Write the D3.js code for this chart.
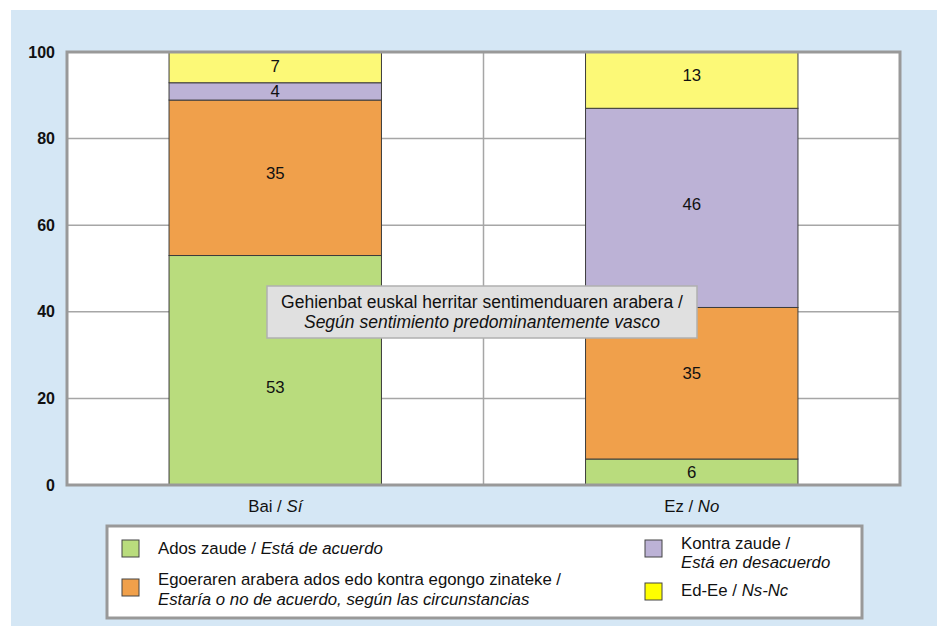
<!DOCTYPE html>
<html><head><meta charset="utf-8">
<script src="https://cdn.jsdelivr.net/npm/d3@7"></script>
<style>body{margin:0;background:#fff;}svg{display:block;font-family:"Liberation Sans",Arial,sans-serif;}</style>
</head><body>
<script>
const categories = ["Bai / |Sí", "Ez / |No"];
const seriesNames = ["Ados zaude / |Está de acuerdo", "Egoeraren arabera ados edo kontra egongo zinateke / |Estaría o no de acuerdo, según las circunstancias", "Kontra zaude / |Está en desacuerdo", "Ed-Ee / |Ns-Nc"];
const adosValues = [53, 6];
const egoerarenValues = [35.9, 35];
const kontraValues = [4, 46];
const edeeValues = [7.1, 13];
const yTicks = [0, 20, 40, 60, 80, 100];
const barColors = ["#b9dc7d", "#f0a04b", "#bcb2d6", "#fcf977"];
const legendColors = ["#b9dc7d", "#f0a04b", "#bcb2d6", "#ffff00"];
const boxText = ["Gehienbat euskal herritar sentimenduaren arabera /", "Según sentimiento predominantemente vasco"];

const W = 937, H = 626;
const FS = 16.8;
const svg = d3.select("body").append("svg").attr("width", W).attr("height", H);
svg.append("rect").attr("x", 11).attr("y", 10).attr("width", W - 11).attr("height", H - 10).attr("fill", "#d5e7f5");

const m = {left: 67, top: 52, right: 900, bottom: 485};
const x = d3.scaleBand().domain(categories).range([m.left, m.right]).paddingInner(0.49).paddingOuter(0.245);
const y = d3.scaleLinear().domain([0, 100]).range([m.bottom, m.top]);

svg.append("rect").attr("x", m.left).attr("y", m.top).attr("width", m.right - m.left).attr("height", m.bottom - m.top).attr("fill", "#fff");

// gridlines
svg.append("g").selectAll("line").data(yTicks.filter(d => d > 0 && d < 100)).join("line")
  .attr("x1", m.left).attr("x2", m.right).attr("y1", d => y(d)).attr("y2", d => y(d))
  .attr("stroke", "#a6a6a6").attr("stroke-width", 1.5);
svg.append("line").attr("x1", (m.left + m.right) / 2).attr("x2", (m.left + m.right) / 2)
  .attr("y1", m.top).attr("y2", m.bottom).attr("stroke", "#a6a6a6").attr("stroke-width", 1.5);

// data table
const rows = categories.map((c, i) => ({cat: c, s0: adosValues[i], s1: egoerarenValues[i], s2: kontraValues[i], s3: edeeValues[i]}));
const keys = ["s0", "s1", "s2", "s3"];
const stack = d3.stack().keys(keys);
const layers = stack(rows);

const gBars = svg.append("g");
layers.forEach((layer, li) => {
  gBars.selectAll(null).data(layer).join("rect")
    .attr("x", d => x(d.data.cat)).attr("width", x.bandwidth())
    .attr("y", d => y(d[1])).attr("height", d => y(d[0]) - y(d[1]))
    .attr("fill", barColors[li]).attr("stroke", "#3c3c3c").attr("stroke-width", 1);
});
// label placement nudges (pixels), like the original chart's manual label positions
const nudge = {"0|s0": 17, "0|s1": -5, "1|s1": -10, "1|s2": -4, "1|s3": -5, "0|s3": -1};
layers.forEach((layer, li) => {
  gBars.selectAll(null).data(layer).join("text")
    .attr("x", d => x(d.data.cat) + x.bandwidth() / 2)
    .attr("y", (d, i) => {
      const cy = (y(d[0]) + y(d[1])) / 2;
      return cy + (nudge[i + "|" + layer.key] || 0);
    })
    .attr("dy", "0.35em").attr("text-anchor", "middle").attr("font-size", FS).attr("fill", "#111")
    .text(d => Math.floor(d.data[layer.key]));
});

// border
svg.append("rect").attr("x", m.left).attr("y", m.top).attr("width", m.right - m.left).attr("height", m.bottom - m.top)
  .attr("fill", "none").attr("stroke", "#999").attr("stroke-width", 3);

// y axis
const yAxis = svg.append("g").attr("transform", `translate(${m.left},0)`)
  .call(d3.axisLeft(y).tickValues(yTicks).tickSize(0).tickPadding(12));
yAxis.select(".domain").remove();
yAxis.selectAll("text").attr("font-size", 16).attr("font-weight", "bold").attr("fill", "#111").attr("font-family", "Liberation Sans, Arial, sans-serif");

// x axis labels
const xl = svg.append("g").selectAll("text").data(categories).join("text")
  .attr("x", d => x(d) + x.bandwidth() / 2).attr("y", 512).attr("text-anchor", "middle")
  .attr("font-size", FS).attr("fill", "#111");
xl.append("tspan").text(d => d.split("|")[0]);
xl.append("tspan").attr("font-style", "italic").text(d => d.split("|")[1]);

// annotation box
svg.append("rect").attr("x", 267).attr("y", 286).attr("width", 430).attr("height", 52)
  .attr("fill", "#e0e0e0").attr("stroke", "#b0b0b0").attr("stroke-width", 1.5);
svg.append("text").attr("x", 482).attr("y", 308).attr("text-anchor", "middle").attr("font-size", 17.5).attr("fill", "#111").text(boxText[0]);
svg.append("text").attr("x", 482).attr("y", 328).attr("text-anchor", "middle").attr("font-size", 17.5).attr("font-style", "italic").attr("fill", "#111").text(boxText[1]);

// legend
svg.append("rect").attr("x", 107).attr("y", 526).attr("width", 755).attr("height", 92)
  .attr("fill", "#fff").attr("stroke", "#999").attr("stroke-width", 3);
const legPos = [
  {sx: 122, sy: 540, tx: 158, ty: [554]},
  {sx: 122, sy: 579, tx: 158, ty: [585, 605]},
  {sx: 645, sy: 540, tx: 681, ty: [549, 568]},
  {sx: 645, sy: 583, tx: 681, ty: [596]}
];
seriesNames.forEach((n, i) => {
  const p = legPos[i];
  svg.append("rect").attr("x", p.sx).attr("y", p.sy).attr("width", 17).attr("height", 17)
    .attr("fill", legendColors[i]).attr("stroke", "#444").attr("stroke-width", 1);
  const parts = n.split("|");
  if (p.ty.length === 1) {
    const t = svg.append("text").attr("x", p.tx).attr("y", p.ty[0]).attr("font-size", FS).attr("fill", "#111");
    t.append("tspan").text(parts[0]);
    t.append("tspan").attr("font-style", "italic").text(parts[1]);
  } else {
    svg.append("text").attr("x", p.tx).attr("y", p.ty[0]).attr("font-size", FS).attr("fill", "#111").text(parts[0].trimEnd());
    svg.append("text").attr("x", p.tx).attr("y", p.ty[1]).attr("font-size", FS).attr("font-style", "italic").attr("fill", "#111").text(parts[1]);
  }
});
</script>
</body></html>
